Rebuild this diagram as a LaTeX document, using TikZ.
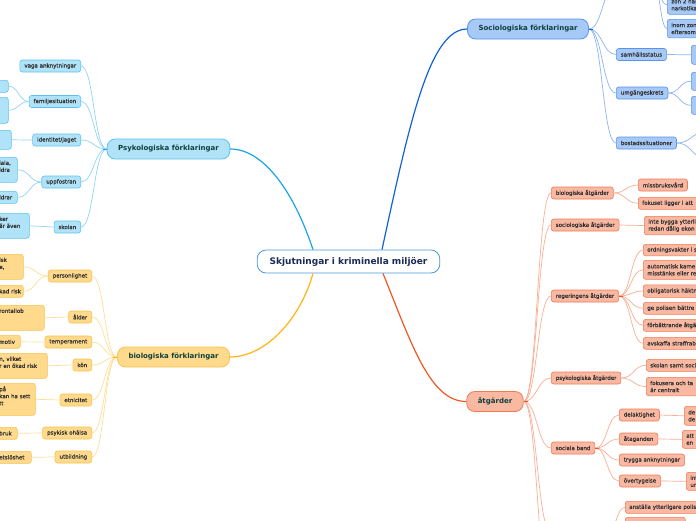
\documentclass[tikz,border=0pt]{standalone}
\usepackage{fontspec}
\setmainfont{DejaVu Sans}
\newfontfamily\kidfont{DejaVu Sans}[FakeBold=0.6]
\usetikzlibrary{calc}
\definecolor{psyfill}{HTML}{B0E3F8}
\definecolor{psyline}{HTML}{5CC3EE}
\definecolor{psymain}{HTML}{1AA3E6}
\definecolor{psyconn}{HTML}{8ED6F4}
\definecolor{biofill}{HTML}{FFDA8C}
\definecolor{bioline}{HTML}{F8C24E}
\definecolor{biomain}{HTML}{FFB514}
\definecolor{bioconn}{HTML}{FFDE96}
\definecolor{socfill}{HTML}{A7C9F7}
\definecolor{socline}{HTML}{5B94E6}
\definecolor{socmain}{HTML}{1361D6}
\definecolor{socconn}{HTML}{8DB5EF}
\definecolor{atgfill}{HTML}{F9B8A1}
\definecolor{atgline}{HTML}{EF7B55}
\definecolor{atgmain}{HTML}{EF5726}
\definecolor{atgconn}{HTML}{F8AF96}
\definecolor{txt}{HTML}{303030}
\definecolor{ttl}{HTML}{0F3F3A}
\definecolor{ctl}{HTML}{1B2A57}
\definecolor{cline}{HTML}{4A98DE}
\tikzset{
  every node/.style={font=\kidfont\fontsize{5.5}{7}\selectfont, text=txt},
  kid/.style={draw, rounded corners=2.5pt, line width=0.6pt, inner xsep=4.5pt, inner ysep=1pt, minimum height=12pt},
  psyk/.style={kid, fill=psyfill, draw=psyline},
  biok/.style={kid, fill=biofill, draw=bioline},
  sock/.style={kid, fill=socfill, draw=socline},
  atgk/.style={kid, fill=atgfill, draw=atgline},
  lcut/.style={anchor=north west, align=left, inner xsep=3pt},
  rcut/.style={anchor=north west, align=left, text width=90pt, inner xsep=4pt},
  branch/.style={draw, rounded corners=8pt, line width=0.8pt, inner xsep=11pt, inner ysep=1pt, minimum height=20pt, font=\rmfamily\bfseries\fontsize{7}{8}\selectfont, text=ttl},
  centre/.style={draw=cline, fill=white, rounded corners=9pt, line width=0.8pt, inner xsep=12.5pt, inner ysep=1pt, minimum height=23pt, font=\rmfamily\bfseries\fontsize{9}{10}\selectfont, text=ctl},
  sc/.style={to path={let \p1=(\tikztostart), \p2=(\tikztotarget) in .. controls ({0.5*\x1+0.5*\x2},\y1) and ({0.5*\x1+0.5*\x2},\y2) .. (\tikztotarget)}},
  pl/.style={draw=psyconn, line width=0.7pt},
  bl/.style={draw=bioconn, line width=0.7pt},
  sl/.style={draw=socconn, line width=0.7pt},
  al/.style={draw=atgconn, line width=0.7pt},
}
\begin{document}
\begin{tikzpicture}[x=1pt,y=-1pt]
\useasboundingbox (0,0) rectangle (696,520);
\fill[white] (0,0) rectangle (696,520);
\clip (0,0) rectangle (696,520);

% ---------- centre and main branches ----------
\node[centre] (c) at (348.5,261.5) {Skjutningar i kriminella miljöer};
\node[branch, fill=psyfill, draw=psyline] (p) at (168.5,149) {Psykologiska förklaringar};
\node[branch, fill=biofill, draw=bioline] (b) at (173.5,357) {biologiska förklaringar};
\node[branch, fill=socfill, draw=socline] (s) at (528,29) {Sociologiska förklaringar};
\node[branch, fill=atgfill, draw=atgline] (a) at (495,401.5) {åtgärder};

\draw[psymain, line width=1.2pt] ([xshift=-35.5pt]c.north) .. controls (295,195) and (265,149) .. (p.east);
\draw[biomain, line width=1.2pt] ([xshift=-35.5pt]c.south) .. controls (300,320) and (265,357) .. (b.east);
\draw[socmain, line width=1.2pt] ([xshift=33.5pt]c.north) .. controls (410,120) and (430,29) .. (s.west);
\draw[atgmain, line width=1.2pt] ([xshift=34.5pt]c.south) .. controls (412,345) and (430,401.5) .. (a.west);

% ---------- Psykologiska ----------
\node[psyk, anchor=east] (p1) at (81,66) {vaga anknytningar};
\node[psyk, anchor=east] (p2) at (81,101.5) {familjesituation};
\node[psyk, anchor=east] (p3) at (81,140) {identitet/jaget};
\node[psyk, anchor=east] (p4) at (81,182) {uppfostran};
\node[psyk, anchor=east] (p5) at (81,227) {skolan};
\node[psyk, lcut, text width=6pt, minimum height=12pt] (p21) at (-4,80) {};
\node[psyk, lcut, text width=6pt, minimum height=26pt] (p22) at (-4,97) {};
\node[psyk, lcut, text width=9pt, minimum height=19pt] (p31) at (-4,130) {};
\node[psyk, lcut, text width=15pt, minimum height=25pt] (p41) at (-4,157) {iala,\\idra\\\mbox{}};
\node[psyk, lcut, text width=15pt, minimum height=12pt] (p42) at (-4,191) {ldrar};
\node[psyk, lcut, text width=27pt, minimum height=25pt] (p51) at (-4,213) {ker\\är~även\\\mbox{}};
\foreach \k in {p1,p2,p3,p4,p5} \draw[pl] (p.west) to[sc] (\k.east);
\draw[pl] (p2.west) to[sc] (p21.east);
\draw[pl] (p2.west) to[sc] (p22.east);
\draw[pl] (p3.west) to[sc] (p31.east);
\draw[pl] (p4.west) to[sc] (p41.east);
\draw[pl] (p4.west) to[sc] (p42.east);
\draw[pl] (p5.west) to[sc] (p51.east);
\draw[psymain, line width=1pt] (p.west) -- ++(-4,0);

% ---------- biologiska ----------
\node[biok, anchor=east] (b1) at (92,276) {personlighet};
\node[biok, anchor=east] (b2) at (92,317) {ålder};
\node[biok, anchor=east] (b3) at (92,342) {temperament};
\node[biok, anchor=east] (b4) at (92,365) {kön};
\node[biok, anchor=east] (b5) at (92,400) {etnicitet};
\node[biok, anchor=east] (b6) at (92,433) {psykisk ohälsa};
\node[biok, anchor=east] (b7) at (92,457) {utbildning};
\node[biok, lcut, text width=21pt, minimum height=25pt] (b11) at (-4,254) {isk\\e,\\\mbox{}};
\node[biok, lcut, text width=21pt, minimum height=12pt] (b12) at (-4,285) {kad~risk};
\node[biok, lcut, text width=42pt, minimum height=25pt] (b21) at (-4,305) {rontallob\\\mbox{}\\\mbox{}};
\node[biok, lcut, text width=18pt, minimum height=13pt] (b31) at (-4,335) {motiv};
\node[biok, lcut, text width=45pt, minimum height=25pt] (b41) at (-4,353) {n, vilket\\r en ökad risk\\\mbox{}};
\node[biok, lcut, text width=33pt, minimum height=32pt] (b51) at (-4,383) {på\\kan~ha~sett\\tt\\\mbox{}};
\node[biok, lcut, text width=15pt, minimum height=12pt] (b61) at (-4,427) {bruk};
\node[biok, lcut, text width=29pt, minimum height=12pt] (b71) at (-4,451) {etslöshet};
\foreach \k in {b1,b2,b3,b4,b5,b6,b7} \draw[bl] (b.west) to[sc] (\k.east);
\draw[bl] (b1.west) to[sc] (b11.east);
\draw[bl] (b1.west) to[sc] (b12.east);
\draw[bl] (b2.west) to[sc] (b21.east);
\draw[bl] (b3.west) to[sc] (b31.east);
\draw[bl] (b4.west) to[sc] (b41.east);
\draw[bl] (b5.west) to[sc] (b51.east);
\draw[bl] (b6.west) to[sc] (b61.east);
\draw[bl] (b7.west) to[sc] (b71.east);
\draw[biomain, line width=1pt] (b.west) -- ++(-4,0);

% ---------- Sociologiska ----------
\node[sock, anchor=west, minimum width=37pt] (s0) at (616,-14) {};
\node[sock, anchor=west] (s1) at (616,54.5) {samhällsstatus};
\node[sock, anchor=west] (s2) at (616,93) {umgängeskrets};
\node[sock, anchor=west] (s3) at (616,143) {bostadssituationer};
\node[sock, rcut, minimum height=19pt] (s01) at (667,-5) {zon 2 när\\narkotika};
\node[sock, rcut, minimum height=18.5pt] (s02) at (667,19) {inom zon\\eftersom};
\node[sock, rcut, minimum height=19pt] (s11) at (691,45) {};
\node[sock, rcut, minimum height=18pt] (s21) at (691,72) {};
\node[sock, rcut, minimum height=18pt] (s22) at (691,96) {};
\coordinate (s31) at (706,132);
\coordinate (s32) at (706,158);
\foreach \k in {s0,s1,s2,s3} \draw[sl] (s.east) to[sc] (\k.west);
\draw[sl] (s0.east) to[sc] (s01.west);
\draw[sl] (s0.east) to[sc] (s02.west);
\draw[sl] (s1.east) to[sc] (s11.west);
\draw[sl] (s2.east) to[sc] (s21.west);
\draw[sl] (s2.east) to[sc] (s22.west);
\draw[sl] (s3.east) to[sc] (s31);
\draw[sl] (s3.east) to[sc] (s32);
\draw[socmain, line width=1pt] (s.east) -- ++(4,0);

% ---------- åtgärder ----------
\node[atgk, anchor=west] (a1) at (551,193) {biologiska åtgärder};
\node[atgk, anchor=west] (a2) at (551,225) {sociologiska åtgärder};
\node[atgk, anchor=west] (a3) at (551,296) {regeringens åtgärder};
\node[atgk, anchor=west] (a4) at (551,378) {psykologiska åtgärder};
\node[atgk, anchor=west] (a5) at (551,448) {sociala band};
\node[atgk, anchor=west, minimum width=56pt] (a6) at (551,532) {};
\node[atgk, anchor=west, minimum width=56pt] (a7) at (551,590) {};
\node[atgk, anchor=west] (a11) at (638,185) {missbruksvård};
\node[atgk, rcut, minimum height=12pt] (a12) at (638,197) {fokuset ligger i att};
\node[atgk, rcut, minimum height=18.5pt] (a21) at (644,216) {inte bygga ytterli\\redan dålig ekon};
\node[atgk, rcut, minimum height=11.5pt] (a31) at (643,244) {ordningsvakter i s};
\node[atgk, rcut, minimum height=19pt] (a32) at (643,260) {automatisk kame\\misstänks eller re};
\node[atgk, rcut, minimum height=12.5pt] (a33) at (643,284.5) {obligatorisk häktn};
\node[atgk, rcut, minimum height=12pt] (a34) at (643,302) {ge polisen bättre};
\node[atgk, rcut, minimum height=12pt] (a35) at (643,319) {förbättrande åtgä};
\node[atgk, rcut, minimum height=12pt] (a36) at (643,337) {avskaffa straffrab};
\node[atgk, rcut, minimum height=12pt] (a41) at (646,359) {skolan samt soci};
\node[atgk, rcut, minimum height=18.5pt] (a42) at (646,377) {fokusera och ta\\är centralt};
\node[atgk, anchor=west] (a51) at (619,415) {delaktighet};
\node[atgk, anchor=west] (a52) at (619,439) {åtaganden};
\node[atgk, anchor=west] (a53) at (619,460) {trygga anknytningar};
\node[atgk, anchor=west] (a54) at (619,481) {övertygelse};
\node[atgk, rcut, minimum height=19pt] (a511) at (684,406) {de\\de};
\node[atgk, rcut, minimum height=18pt] (a521) at (682,430) {att\\en};
\node[atgk, rcut, minimum height=18pt] (a541) at (686,472) {inf\\ur};
\node[atgk, rcut, minimum height=12pt] (a61) at (625,501) {anställa ytterligare polis};
\node[atgk, anchor=north west, minimum width=60pt] (a62) at (625,517) {};
\foreach \k in {a1,a2,a3,a4,a5,a6,a7} \draw[al] (a.east) to[sc] (\k.west);
\draw[al] (a1.east) to[sc] (a11.west);
\draw[al] (a1.east) to[sc] (a12.west);
\draw[al] (a2.east) to[sc] (a21.west);
\foreach \k in {a31,a32,a33,a34,a35,a36} \draw[al] (a3.east) to[sc] (\k.west);
\draw[al] (a4.east) to[sc] (a41.west);
\draw[al] (a4.east) to[sc] (a42.west);
\foreach \k in {a51,a52,a53,a54} \draw[al] (a5.east) to[sc] (\k.west);
\draw[al] (a51.east) to[sc] (a511.west);
\draw[al] (a52.east) to[sc] (a521.west);
\draw[al] (a54.east) to[sc] (a541.west);
\draw[al] (a6.east) to[sc] (a61.west);
\draw[al] (a6.east) to[sc] (a62.west);
\draw[atgmain, line width=1pt] (a.east) -- ++(4,0);
\draw[atgmain, line width=1pt] (a3.east) -- ++(4,0);
\draw[atgmain, line width=1pt] (a5.east) -- ++(4,0);
\end{tikzpicture}
\end{document}
